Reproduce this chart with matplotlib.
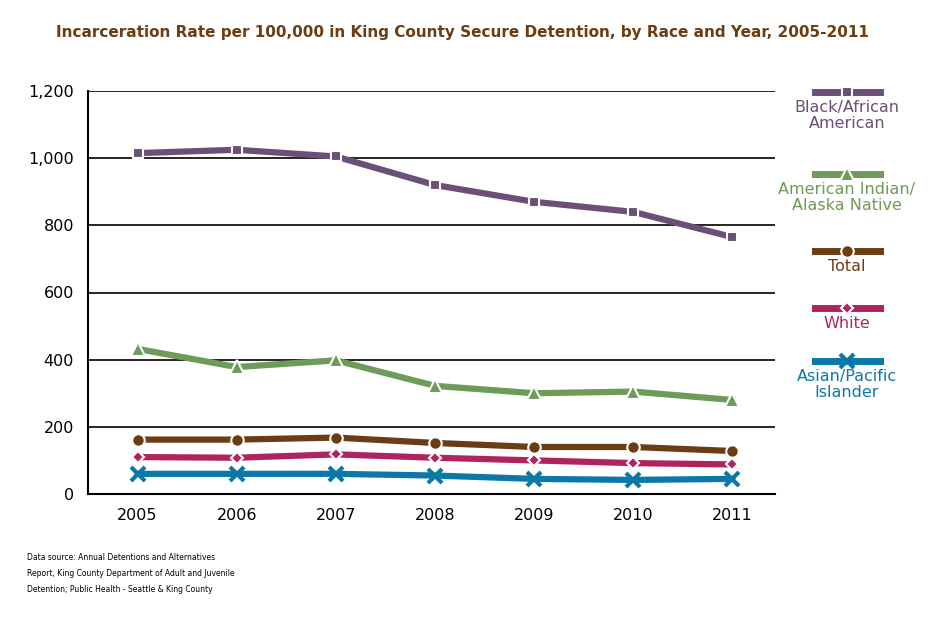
import matplotlib
matplotlib.use("Agg")
import matplotlib.pyplot as plt
from matplotlib.lines import Line2D

years = [2005, 2006, 2007, 2008, 2009, 2010, 2011]
black = [1015, 1025, 1005, 920, 870, 840, 765]
amind = [432, 378, 398, 322, 300, 305, 280]
total = [162, 162, 168, 152, 140, 140, 128]
white = [110, 108, 118, 108, 100, 92, 88]
asian = [60, 60, 60, 55, 45, 42, 45]

series = [
    ("Black/African\nAmerican", black, "#6b4f78", "s", 7),
    ("American Indian/\nAlaska Native", amind, "#6e9a5a", "^", 10),
    ("Total", total, "#6b3d14", "o", 9),
    ("White", white, "#b0245e", "D", 6),
    ("Asian/Pacific\nIslander", asian, "#0b78a8", "x", 10),
]

fig = plt.figure(figsize=(9.36, 6.21), dpi=100)
ax = fig.add_axes([88/936, 1-494/621, (775-88)/936, (494-91)/621])
for name, vals, c, m, ms in series:
    mew = 3 if m == "x" else 1.5
    mec = c if m == "x" else "white"
    ax.plot(years, vals, color=c, lw=4.5, marker=m, ms=ms, mec=mec, mew=mew, zorder=3)

ax.set_xlim(2004.5, 2011.43)
ax.set_ylim(0, 1200)
ax.set_yticks(range(0, 1201, 200))
ax.set_yticklabels(["0", "200", "400", "600", "800", "1,000", "1,200"])
ax.set_xticks(years)
ax.grid(axis="y", color="black", lw=1.2)
ax.set_axisbelow(True)
for s in ["top", "right"]:
    ax.spines[s].set_visible(False)
ax.spines["left"].set_linewidth(1.5)
ax.spines["bottom"].set_linewidth(1.5)
ax.tick_params(length=0, labelsize=11.5, pad=10)

fig.text(462/936, 1-33/621, "Incarceration Rate per 100,000 in King County Secure Detention, by Race and Year, 2005-2011",
         ha="center", va="center", fontsize=11, color="#6b3d14", fontweight="bold")

legend_y = [92, 174, 251, 308, 361]
for (name, vals, c, m, ms), y in zip(series, legend_y):
    yy = 1 - y/621
    mew = 3 if m == "x" else 1.5
    mec = c if m == "x" else "white"
    fig.add_artist(Line2D([815/936, 880/936], [yy, yy], color=c, lw=5, transform=fig.transFigure))
    fig.add_artist(Line2D([847/936], [yy], color=c, lw=0, marker=m, ms=ms,
                          mec=mec, mew=mew, transform=fig.transFigure))
    fig.text(847/936, yy - 8/621, name, ha="center", va="top", fontsize=11.5, color=c, linespacing=1.1)

fig.text(27/936, 1-573/621, "Data source: Annual Detentions and Alternatives\nReport, King County Department of Adult and Juvenile\nDetention; Public Health - Seattle & King County",
         ha="left", va="center", fontsize=5.5, linespacing=2.0)

fig.savefig("out.png", dpi=100)
